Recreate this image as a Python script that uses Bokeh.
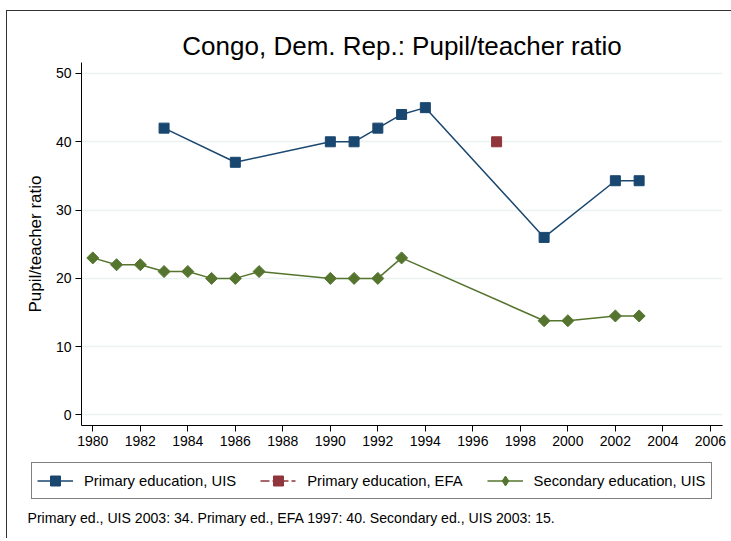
from bokeh.plotting import figure
from bokeh.layouts import column
from bokeh.models import (Range1d, FixedTicker, Legend, LegendItem, Label, ColumnDataSource)
from bokeh.embed import file_html
from bokeh.resources import INLINE
import numpy as np

# ---- data ----
title_text = "Congo, Dem. Rep.: Pupil/teacher ratio"
y_label = "Pupil/teacher ratio"
footnote = "Primary ed., UIS 2003: 34. Primary ed., EFA 1997: 40. Secondary ed., UIS 2003: 15."

primary_uis_years = [1983, 1986, 1990, 1991, 1992, 1993, 1994, 1999, 2002, 2003]
primary_uis_vals = [42, 37, 40, 40, 42, 44, 45, 26, 34.3, 34.3]

primary_efa_years = [1997]
primary_efa_vals = [40]

secondary_uis_years = [1980, 1981, 1982, 1983, 1984, 1985, 1986, 1987, 1990, 1991, 1992, 1993,
                       1999, 2000, 2002, 2003]
secondary_uis_vals = [23, 22, 22, 21, 21, 20, 20, 21, 20, 20, 20, 23, 13.8, 13.8, 14.5, 14.5]

x_ticks = list(range(1980, 2007, 2))
y_ticks = [0, 10, 20, 30, 40, 50]

series_names = ["Primary education, UIS", "Primary education, EFA", "Secondary education, UIS"]

NAVY = "#1a476f"
MAROON = "#90353b"
GREEN = "#55752f"
FONT = "Liberation Sans"

# ---------- main chart ----------
p = figure(width=724, height=447, output_backend="svg", toolbar_location=None,
           x_range=Range1d(1979.524, 2006.51), y_range=Range1d(-1.54, 51.61),
           min_border_left=74, min_border_right=9, min_border_top=51, min_border_bottom=33)
p.frame_align = False
p.outline_line_color = None
p.background_fill_color = "white"
p.border_fill_color = "white"

p.title.text = title_text
p.title.align = "center"
p.title.text_font = FONT
p.title.text_font_size = "26px"
p.title.text_font_style = "normal"
p.title.text_color = "black"
p.title.standoff = 4

p.xaxis.ticker = FixedTicker(ticks=x_ticks)
p.yaxis.ticker = FixedTicker(ticks=y_ticks)
for ax in (p.xaxis[0], p.yaxis[0]):
    ax.major_label_text_font = FONT
    ax.major_label_text_font_size = "14px"
    ax.major_label_text_color = "black"
    ax.axis_line_color = "black"
    ax.major_tick_line_color = "black"
    ax.major_tick_out = 6
    ax.major_tick_in = 0
    ax.minor_tick_line_color = None
    ax.major_label_standoff = 4
p.yaxis.major_label_orientation = "horizontal"
p.yaxis.axis_label = y_label
p.yaxis.axis_label_text_font = FONT
p.yaxis.axis_label_text_font_size = "17px"
p.yaxis.axis_label_text_font_style = "normal"
p.yaxis.axis_label_text_color = "black"
p.yaxis.axis_label_standoff = 8

p.xgrid.grid_line_color = None
p.ygrid.grid_line_color = "#eaf2f3"
p.ygrid.grid_line_width = 1.5

src1 = ColumnDataSource(dict(x=primary_uis_years, y=primary_uis_vals))
src2 = ColumnDataSource(dict(x=primary_efa_years, y=primary_efa_vals))
src3 = ColumnDataSource(dict(x=secondary_uis_years, y=secondary_uis_vals))
sources = [src1, src2, src3]

styles = [
    dict(color=NAVY, dash="solid", marker="square", legend_marker="square", size=10, angle=0.0),
    dict(color=MAROON, dash="9 3 4 3", marker="square", legend_marker="square", size=10, angle=0.0),
    dict(color=GREEN, dash="solid", marker="square", legend_marker="diamond", size=8.5,
         angle=np.pi / 4),
]

for src, st in zip(sources, styles):
    p.line("x", "y", source=src, line_color=st["color"], line_width=1.5, line_dash=st["dash"])
    p.scatter("x", "y", source=src, marker=st["marker"], size=st["size"], angle=st["angle"],
              fill_color=st["color"], line_color=st["color"])

# ---------- legend + note strip (same data, ranges keep the marks out of view) ----------
q = figure(width=724, height=80, output_backend="svg", toolbar_location=None,
           x_range=Range1d(0, 1), y_range=Range1d(0, 1),
           min_border=0, min_border_left=0, min_border_right=0,
           min_border_top=0, min_border_bottom=0)
q.frame_align = False
q.axis.visible = False
q.grid.visible = False
q.outline_line_color = None
q.background_fill_color = "white"
q.border_fill_color = "white"

items = []
for name, src, st in zip(series_names, sources, styles):
    lr = q.line("x", "y", source=src, line_color=st["color"], line_width=1.5, line_dash=st["dash"])
    mr = q.scatter("x", "y", source=src, marker=st["legend_marker"],
                   fill_color=st["color"], line_color=st["color"])
    items.append(LegendItem(label=name, renderers=[lr, mr]))

legend = Legend(items=items, orientation="horizontal", location=(24, 39),
                glyph_width=36, glyph_height=25, label_standoff=11, spacing=24,
                padding=5, margin=0, label_text_font=FONT, label_text_font_size="14.8px",
                label_text_color="black", border_line_color="black", border_line_width=1,
                background_fill_color="white", background_fill_alpha=1)
q.add_layout(legend, "center")

foot = Label(x=20, y=21, x_units="screen", y_units="screen", text=footnote,
             text_font=FONT, text_font_size="14.1px", text_align="left",
             text_baseline="middle", text_color="black")
q.add_layout(foot)

layout = column(p, q, spacing=0)
layout.styles = {"margin-left": "6px", "margin-top": "10px",
                 "border-left": "1px solid #333333", "border-top": "1px solid #333333"}
open("out.html", "w").write(file_html(layout, INLINE))
